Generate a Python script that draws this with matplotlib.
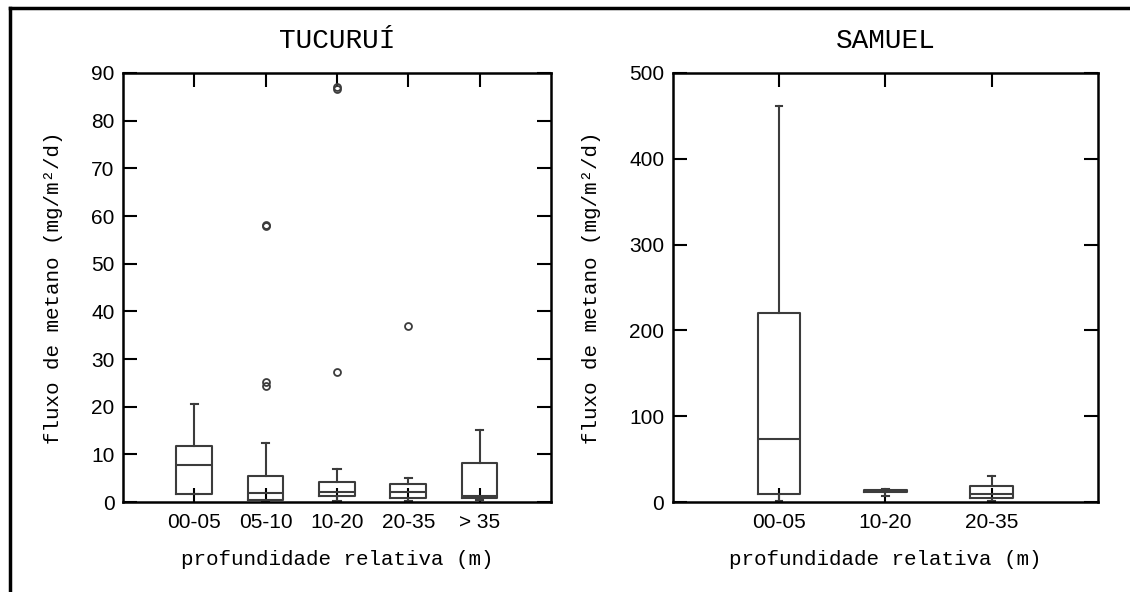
import matplotlib
matplotlib.use('Agg')
import matplotlib.pyplot as plt
from matplotlib.lines import Line2D

# dados (mg/m2/d)
tuc_labels = ['00-05', '05-10', '10-20', '20-35', '> 35']
tuc_whislo = [1.7, 0.1, 0.3, 0.2, 0.5]
tuc_q1 = [1.7, 0.5, 1.3, 0.9, 0.9]
tuc_med = [7.8, 1.8, 2.1, 2.0, 1.2]
tuc_q3 = [11.8, 5.4, 4.1, 3.7, 8.1]
tuc_whishi = [20.5, 12.3, 7.0, 5.0, 15.1]
tuc_fliers = [[], [24.3, 25.1, 57.8, 58.2], [27.2, 86.6, 87.1], [36.9], []]

sam_labels = ['00-05', '10-20', '20-35']
sam_whislo = [1.0, 7.5, 1.0]
sam_q1 = [9.3, 11.5, 5.0]
sam_med = [73.0, 12.5, 8.9]
sam_q3 = [220.0, 13.5, 18.6]
sam_whishi = [461.5, 15.0, 29.9]
sam_fliers = [[], [], []]

box_color = '#3c3c3c'
lab_font = 'Liberation Mono'
tick_font = 'Liberation Sans'


def make_stats(labels, wlo, q1, med, q3, whi, fl):
    stats = []
    for i in range(len(labels)):
        stats.append({'label': labels[i], 'whislo': wlo[i], 'q1': q1[i],
                      'med': med[i], 'q3': q3[i], 'whishi': whi[i],
                      'fliers': fl[i]})
    return stats


def draw_panel(ax, stats, width, capw, ylim, yticks, title):
    pos = list(range(1, len(stats) + 1))
    ax.bxp(stats, positions=pos, widths=width, capwidths=capw,
           showfliers=True,
           boxprops=dict(color=box_color, linewidth=1.5),
           whiskerprops=dict(color=box_color, linewidth=1.5),
           capprops=dict(color=box_color, linewidth=1.5),
           medianprops=dict(color=box_color, linewidth=1.5),
           flierprops=dict(marker='o', markersize=5, markerfacecolor='none',
                           markeredgecolor=box_color, markeredgewidth=1.3))
    ax.set_xlim(0, len(stats) + 1)
    ax.set_ylim(*ylim)
    ax.set_yticks(yticks)
    ax.set_xticks(pos)
    ax.set_xticklabels([s['label'] for s in stats])
    ax.tick_params(direction='in', length=10, width=1.5, top=True, right=True,
                   labelsize=15)
    ax.tick_params(axis='x', pad=8)
    ax.tick_params(axis='y', pad=6)
    for lab in ax.get_xticklabels() + ax.get_yticklabels():
        lab.set_fontfamily(tick_font)
    for sp in ax.spines.values():
        sp.set_linewidth(1.8)
    ax.set_title(title, fontfamily=lab_font, fontsize=20, pad=18)
    ax.set_xlabel('profundidade relativa (m)', fontfamily=lab_font,
                  fontsize=15, labelpad=13)
    ax.set_ylabel('fluxo de metano (mg/m²/d)', fontfamily=lab_font,
                  fontsize=15, labelpad=20)


fig = plt.figure(figsize=(11.3, 5.92), dpi=100)
ax1 = fig.add_axes([0.1088, 0.152, 0.3788, 0.7247])
ax2 = fig.add_axes([0.5953, 0.152, 0.3764, 0.7247])

draw_panel(ax1, make_stats(tuc_labels, tuc_whislo, tuc_q1, tuc_med, tuc_q3,
                           tuc_whishi, tuc_fliers),
           0.5, 0.1, (0, 90), range(0, 91, 10), 'TUCURUÍ')
draw_panel(ax2, make_stats(sam_labels, sam_whislo, sam_q1, sam_med, sam_q3,
                           sam_whishi, sam_fliers),
           0.4, 0.065, (0, 500), range(0, 501, 100), 'SAMUEL')

# moldura (so topo e esquerda aparecem na imagem)
fig.add_artist(Line2D([10 / 1130, 10 / 1130], [-0.1, 1 - 8 / 592],
                      transform=fig.transFigure, color='black', linewidth=2.5))
fig.add_artist(Line2D([10 / 1130, 1.1], [1 - 8 / 592, 1 - 8 / 592],
                      transform=fig.transFigure, color='black', linewidth=2.5))

plt.savefig('out.png', dpi=100)
